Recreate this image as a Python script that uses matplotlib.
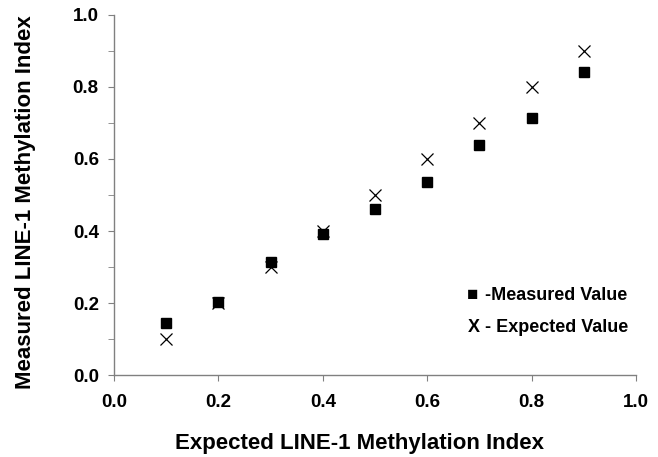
import matplotlib.pyplot as plt
from matplotlib.ticker import MultipleLocator

plt.rcParams['font.family'] = ['Liberation Sans', 'DejaVu Sans']
plt.rcParams['font.weight'] = 'bold'

# values
expected_x = [0.1, 0.2, 0.3, 0.4, 0.5, 0.6, 0.7, 0.8, 0.9]
measured = [0.145, 0.204, 0.313, 0.392, 0.46, 0.535, 0.638, 0.714, 0.841]
expected = [0.1, 0.2, 0.3, 0.4, 0.5, 0.6, 0.7, 0.8, 0.9]

fig = plt.figure(figsize=(6.58, 4.57), dpi=100)
ax = fig.add_axes([0.1733, 0.1794, 0.7933, 0.7878])

ax.plot(expected_x, measured, linestyle="none", marker="s", markersize=7.5,
        color="black")
ax.plot(expected_x, expected, linestyle="none", marker="x", markersize=9,
        markeredgewidth=0.9, color="black")

ax.set_xlim(0, 1)
ax.set_ylim(0, 1)
ax.xaxis.set_major_locator(MultipleLocator(0.2))
ax.yaxis.set_major_locator(MultipleLocator(0.2))
ax.yaxis.set_minor_locator(MultipleLocator(0.1))
ax.xaxis.set_major_formatter(plt.FormatStrFormatter("%.1f"))
ax.yaxis.set_major_formatter(plt.FormatStrFormatter("%.1f"))

for side in ["top", "right"]:
    ax.spines[side].set_visible(False)
for side in ["left", "bottom"]:
    ax.spines[side].set_color("#808080")
    ax.spines[side].set_linewidth(1.0)

ax.tick_params(axis="both", which="both", direction="out", color="#808080",
               labelsize=13.5)
ax.tick_params(axis="y", which="major", length=4, pad=7)
ax.tick_params(axis="y", which="minor", length=4)
ax.tick_params(axis="x", which="major", length=4, pad=10)

ax.set_xlabel("Expected LINE-1 Methylation Index", fontsize=16,
              fontweight="bold", va="center")
ax.xaxis.set_label_coords(0.471, -0.189)
ax.set_ylabel("Measured LINE-1 Methylation Index", fontsize=16,
              fontweight="bold", va="center")
ax.yaxis.set_label_coords(-0.169, 0.48)

ax.text(0.676, 0.222, "\u25a0", fontsize=13.5, va="center", ha="left")
ax.text(0.71, 0.222, "-Measured Value", fontsize=13,
        fontweight="bold", va="center", ha="left")
ax.text(0.678, 0.133, "X - Expected Value", fontsize=13,
        fontweight="bold", va="center", ha="left")

fig.savefig("out.png", dpi=100)
